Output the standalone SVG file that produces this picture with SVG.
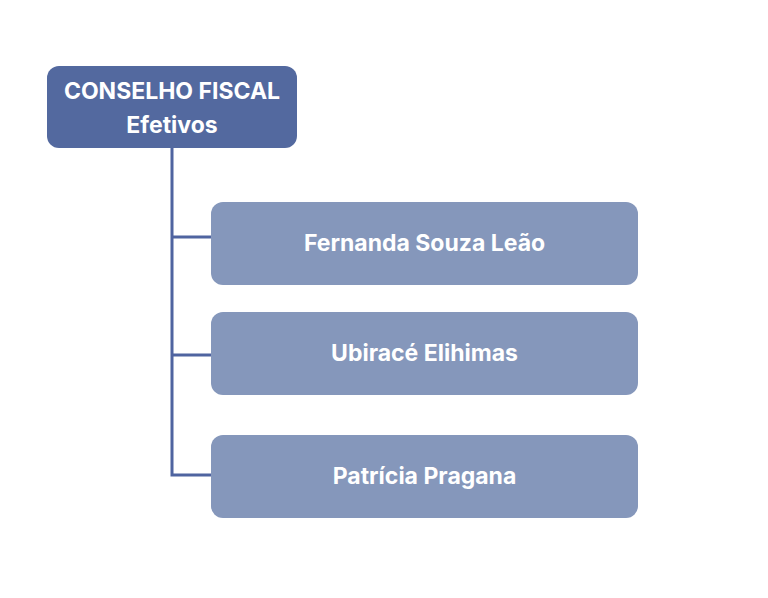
<svg xmlns="http://www.w3.org/2000/svg" width="768" height="598" viewBox="0 0 768 598">
<style>
.head{fill:#53699f}
.child{fill:#8597bb}
.t{font-family:Inter,"Liberation Sans",sans-serif;font-weight:bold;font-size:23px;fill:#ffffff;text-anchor:middle}
.c{fill:none;stroke:#4f64a0;stroke-width:3}
</style>
<rect width="768" height="598" fill="#ffffff"/>
<g id="connectors">
<path class="c" d="M172 148 V475 H211 M172 237 H211 M172 355 H211"/>
</g>
<g id="conselho">
<rect class="head" x="47" y="66" width="250" height="82" rx="12"/>
<text class="t" x="172" y="99">CONSELHO FISCAL</text>
<text class="t" x="172" y="133">Efetivos</text>
</g>
<g id="fernanda">
<rect class="child" x="211" y="202" width="427" height="83" rx="12"/>
<text class="t" x="424.5" y="251">Fernanda Souza Leão</text>
</g>
<g id="ubirace">
<rect class="child" x="211" y="312" width="427" height="83" rx="12"/>
<text class="t" x="424.5" y="361">Ubiracé Elihimas</text>
</g>
<g id="patricia">
<rect class="child" x="211" y="435" width="427" height="83" rx="12"/>
<text class="t" x="424.5" y="484">Patrícia Pragana</text>
</g>
</svg>
